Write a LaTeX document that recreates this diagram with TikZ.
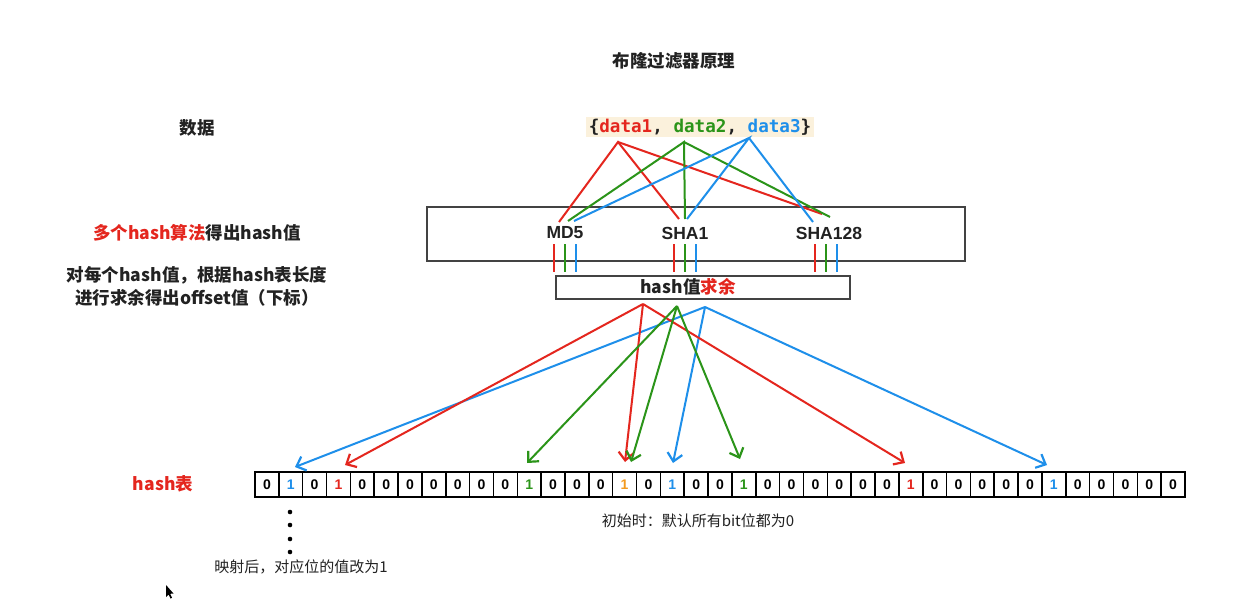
\documentclass[tikz,border=0pt]{standalone}
\usepackage{fontspec}
\setmainfont{Liberation Sans}
\newfontfamily\cjk{Noto Sans CJK SC}
\newfontfamily\monof{DejaVu Sans Mono}
\usetikzlibrary{arrows.meta}
\definecolor{cr}{HTML}{E4261E}
\definecolor{cg}{HTML}{2B9419}
\definecolor{cb}{HTML}{1E8FEA}
\definecolor{co}{HTML}{F39A1F}
\definecolor{beige}{HTML}{FBF1DC}
\definecolor{ink}{HTML}{222222}
\begin{document}
\begin{tikzpicture}[x=1pt,y=-1pt,
  lbl/.style={font=\cjk\bfseries\fontsize{17.5}{20}\selectfont, text=ink, inner sep=0pt},
  note/.style={font=\cjk\fontsize{15}{18}\selectfont, text=ink, inner sep=0pt},
  algo/.style={font=\bfseries\fontsize{17.5}{20}\selectfont, text=ink, inner sep=0pt},
  frame/.style={draw=ink!85, line width=1.2pt},
  cell/.style={draw=black, line width=1.6pt, minimum width=23.846pt, minimum height=25pt, inner sep=0pt},
  digit/.style={font=\bfseries\fontsize{14}{14}\selectfont, inner sep=0pt},
  wire/.style={line width=2pt},
  arr/.style={line width=2pt, -{Straight Barb[length=8pt,width=15pt,line width=2.2pt]}}
]
\useasboundingbox (0,0) rectangle (1257,608);
\fill[white] (0,0) rectangle (1257,608);

% title
\node[lbl] (title) at (674,61) {布隆过滤器原理};

% left labels
\node[lbl] (data) at (197,128) {数据};
\node[lbl] (multi) at (197,233) {\textcolor{cr}{多个hash算法}得出hash值};
\node[lbl] (each1) at (197,275) {对每个hash值，根据hash表长度};
\node[lbl] (each2) at (197,298) {进行求余得出offset值（下标）};
\node[lbl, text=cr] (tbl) at (163,484) {hash表};

% data set
\node[fill=beige, inner xsep=3pt, inner ysep=2pt, font=\monof\bfseries\fontsize{17.6}{20}\selectfont, text=ink] (set) at (700,127)
  {\{\textcolor{cr}{data1}, \textcolor{cg}{data2}, \textcolor{cb}{data3}\}};

% hash algorithm box
\draw[frame] (427,207) rectangle (965,261);
\node[algo] (md5) at (565,233) {MD5};
\node[algo] (sha1) at (685,233) {SHA1};
\node[algo] (sha128) at (829,233) {SHA128};

% modulo box
\node[frame, minimum width=294pt, minimum height=23pt, inner sep=0pt] (mod) at (703,287.5) {};
\node[lbl] (modt) at (688,287) {hash值\textcolor{cr}{求余}};

% apex coordinates under data words
\coordinate (r0) at (618,142);
\coordinate (g0) at (684,142);
\coordinate (b0) at (749,138);
% ends at algorithms
\coordinate (rM) at (559,222); \coordinate (gM) at (568,221); \coordinate (bM) at (574,221);
\coordinate (rS) at (679,219); \coordinate (gS) at (685,219); \coordinate (bS) at (687,219);
\coordinate (rT) at (822,214); \coordinate (gT) at (830,217); \coordinate (bT) at (813,222);

\draw[wire, cr] (rM) -- (r0) -- (rS);
\draw[wire, cr] (r0) -- (rT);
\draw[wire, cg] (gM) -- (g0) -- (gS);
\draw[wire, cg] (g0) -- (gT);
\draw[wire, cb] (bM) -- (b0) -- (bS);
\draw[wire, cb] (b0) -- (bT);

% short value lines
\foreach \x/\c in {554/cr,565/cg,576/cb,674/cr,685/cg,696/cb,815/cr,826/cg,837/cb}
  \draw[wire, \c] (\x,244) -- (\x,272);

% hash table
\foreach \i/\v/\c in {1/0/black,2/1/cb,3/0/black,4/1/cr,5/0/black,6/0/black,7/0/black,8/0/black,9/0/black,10/0/black,
  11/0/black,12/1/cg,13/0/black,14/0/black,15/0/black,16/1/co,17/0/black,18/1/cb,19/0/black,20/0/black,
  21/1/cg,22/0/black,23/0/black,24/0/black,25/0/black,26/0/black,27/0/black,28/1/cr,29/0/black,30/0/black,
  31/0/black,32/0/black,33/0/black,34/1/cb,35/0/black,36/0/black,37/0/black,38/0/black,39/0/black}
  \node[cell, digit, text=\c] (c\i) at ({255+(\i-0.5)*23.846},484.5) {\v};

% arrow sources and targets
\coordinate (rH) at (643,304);
\coordinate (gH) at (677,306);
\coordinate (bH) at (705,307);
\coordinate (tr1) at (345,465); \coordinate (tr2) at (625,462); \coordinate (tr3) at (905,463);
\coordinate (tg1) at (527,463); \coordinate (tg2) at (631,462); \coordinate (tg3) at (740,459);
\coordinate (tb1) at (295,467); \coordinate (tb2) at (673,463); \coordinate (tb3) at (1047,465);

\draw[arr, cb] (bH) -- (tb1);
\draw[arr, cb] (bH) -- (tb2);
\draw[arr, cb] (bH) -- (tb3);
\draw[arr, cr] (rH) -- (tr1);
\draw[arr, cr] (rH) -- (tr2);
\draw[arr, cr] (rH) -- (tr3);
\draw[arr, cg] (gH) -- (tg1);
\draw[arr, cg] (gH) -- (tg2);
\draw[arr, cg] (gH) -- (tg3);

% dots and notes
\foreach \y in {512,525,539,552} \fill[black] (290,\y) circle (2.3pt);
\node[note] (init) at (698,521) {初始时：默认所有bit位都为0};
\node[note] (after) at (301,567) {映射后，对应位的值改为1};

% mouse pointer
\fill[black] (166,585) -- (166,597) -- (168.6,594.5) -- (170.5,598.5) -- (172,597.8) -- (170.2,593.8) -- (173.5,593.5) -- cycle;
\end{tikzpicture}
\end{document}
